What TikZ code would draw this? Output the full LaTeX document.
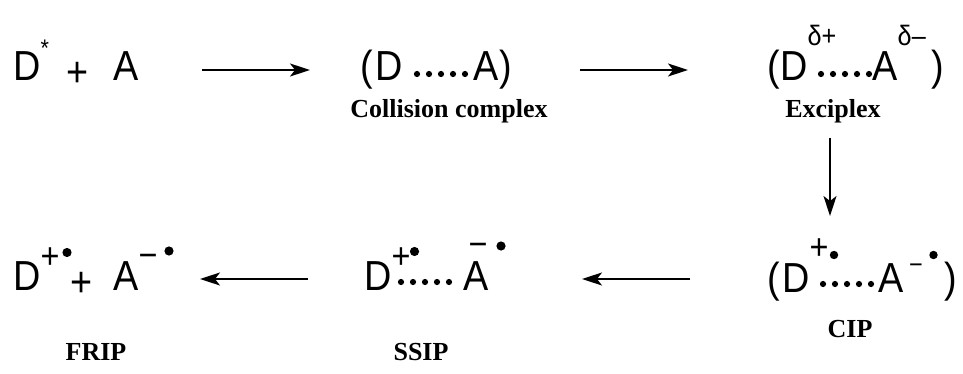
\documentclass[tikz,border=0pt]{standalone}
\usepackage{fontspec}
\setmainfont{Liberation Sans}[FakeStretch=0.9]
\newfontfamily\labfont{Liberation Serif}
\usetikzlibrary{arrows.meta}
\tikzset{
  big/.style={inner sep=0pt, anchor=base west, font=\fontsize{42}{46}\selectfont},
  supx/.style={inner sep=0pt, anchor=base west, font=\fontsize{36}{40}\selectfont},
  supd/.style={inner sep=0pt, anchor=base west, font=\fontsize{28}{32}\selectfont},
  lbl/.style={inner sep=0pt, anchor=base, font=\fontsize{26}{30}\selectfont\labfont\bfseries},
  rxn/.style={line width=1.6pt, -{Stealth[length=20pt,width=13pt,inset=5pt]}},
  bdot/.style={fill=black, draw=none},
}
\begin{document}
\begin{tikzpicture}[x=1pt,y=-1pt]
\useasboundingbox (0,0) rectangle (963,374);
% ---------- row 1 (baseline 81) ----------
% D* + A
\node[big] (d1) at (13,81) {D};
\node[inner sep=0pt, anchor=base west, font=\fontsize{24}{26}\selectfont] (st1) at (40.5,57) {*};
\node[big] (p1) at (66,87) {+};
\node[big] (a1) at (113,81) {A};
% collision complex
\node[big] (lp2) at (360.5,81) {(};
\node[big] (d2) at (375,81) {D};
\foreach \i in {0,...,4} \fill[bdot] (417+12*\i,74) circle (3.1);
\node[big] (a2) at (473,81) {A};
\node[big] (rp2) at (499,81) {)};
\node[lbl] (l2) at (449,118) {Collision complex};
% exciplex
\node[big] (lp3) at (767.5,81) {(};
\node[big] (d3) at (780,81) {D};
\node[supd] (s3a) at (807.5,46) {δ+};
\foreach \i in {0,...,4} \fill[bdot] (821+12*\i,74) circle (3.1);
\node[big] (a3) at (872,81) {A};
\node[supd] (s3b) at (897.5,46) {δ–};
\node[big] (rp3) at (931,81) {)};
\node[lbl] (l3) at (833,118) {Exciplex};
% ---------- row 2 (baseline 290) ----------
% FRIP
\node[big] (d4) at (13,290) {D};
\node[supx] (s4a) at (40.5,268) {+};
\fill[bdot] (67,252.5) circle (4.6);
\node[big] (p4) at (70,296) {+};
\node[big] (a4) at (113,290) {A};
\node[supx] (s4b) at (138.5,267) {−};
\fill[bdot] (169,251) circle (4.6);
\node[lbl] (l4) at (96,360) {FRIP};
% SSIP
\node[big] (d5) at (364,290) {D};
\node[supx] (s5a) at (391.5,268) {+};
\fill[bdot] (414.5,251.5) circle (4.6);
\foreach \i in {0,...,4} \fill[bdot] (401+12*\i,282) circle (3.1);
\node[big] (a5) at (463,290) {A};
\node[inner sep=0pt, anchor=base, font=\fontsize{36}{40}\selectfont] (s5b) at (478,256) {−};
\fill[bdot] (501,246) circle (4.6);
\node[lbl] (l5) at (421,360) {SSIP};
% CIP
\node[big] (lp6) at (767.5,292) {(};
\node[big] (d6) at (782,292) {D};
\node[supx] (s6a) at (809.5,259) {+};
\fill[bdot] (834,255) circle (4.2);
\foreach \i in {0,...,4} \fill[bdot] (823+12*\i,284) circle (3.1);
\node[big] (a6) at (878,292) {A};
\node[inner sep=0pt, anchor=base west, font=\fontsize{26}{30}\selectfont] (s6b) at (909,273) {−};
\fill[bdot] (933.5,255) circle (4.2);
\node[big] (rp6) at (944,292) {)};
\node[lbl] (l6) at (850,337) {CIP};
% ---------- arrows ----------
\coordinate (r1s) at (202,70);
\coordinate (r1e) at (310,70);
\coordinate (r2s) at (580,70);
\coordinate (r2e) at (688,70);
\coordinate (r3s) at (830,138);
\coordinate (r3e) at (830,216);
\coordinate (r4s) at (690,279);
\coordinate (r4e) at (582,279);
\coordinate (r5s) at (308,279);
\coordinate (r5e) at (200,279);
\draw[rxn] (r1s) -- (r1e);
\draw[rxn] (r2s) -- (r2e);
\draw[rxn] (r3s) -- (r3e);
\draw[rxn] (r4s) -- (r4e);
\draw[rxn] (r5s) -- (r5e);
\end{tikzpicture}
\end{document}
